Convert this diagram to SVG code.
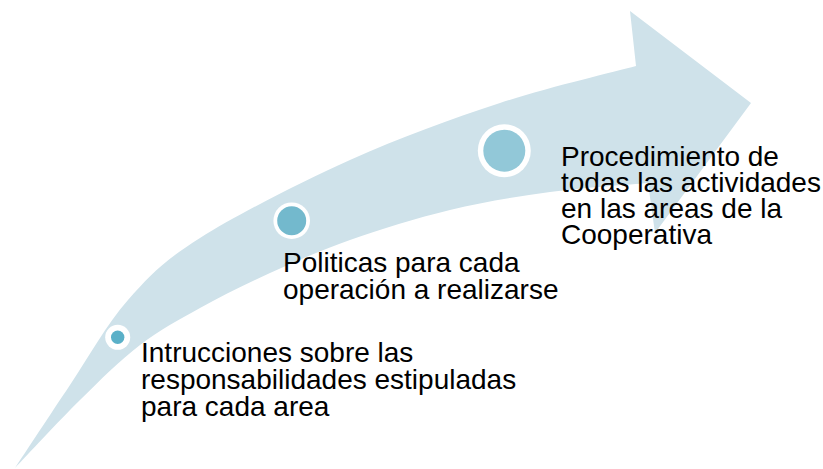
<svg xmlns="http://www.w3.org/2000/svg" width="823" height="469" viewBox="0 0 823 469">
<style>
.arrow{fill:#CFE2EA;stroke:none}
.ring{fill:#FFFFFF}
.lbl{font-family:"Liberation Sans",Arial,sans-serif;font-size:28px;fill:#000000}
</style>
<rect width="823" height="469" fill="#FFFFFF"/>
<g id="arrow">
<path class="arrow" d="M15,468 C24.2,454.2 51.2,413 70,385 C88.8,357 106.3,324.5 128,300 C149.7,275.5 163,261.3 200,238 C237,214.7 300,182.5 350,160 C400,137.5 452.3,118.7 500,103 C547.7,87.3 613.3,72.2 636,66 L630,11 L751,103 L655,233 L648,183 C631.7,184.5 583,187.5 550,192 C517,196.5 483.3,202 450,210 C416.7,218 380,229.5 350,240 C320,250.5 295,261.7 270,273 C245,284.3 221.7,296 200,308 C178.3,320 160,329.7 140,345 C120,360.3 100.8,379.5 80,400 C59.2,420.5 25.8,456.7 15,468 Z"/>
</g>
<g id="node1">
<circle class="ring" cx="117.7" cy="337.3" r="12.5"/>
<circle cx="117.7" cy="337.3" r="6.7" fill="#5AB0C8"/>
<text class="lbl" x="141" y="362">Intrucciones sobre las</text>
<text class="lbl" x="141" y="389">responsabilidades estipuladas</text>
<text class="lbl" x="141" y="416">para cada area</text>
</g>
<g id="node2">
<circle class="ring" cx="291.7" cy="220.7" r="18.3"/>
<circle cx="291.7" cy="220.7" r="14.5" fill="#73B9CD"/>
<text class="lbl" x="283" y="272">Politicas para cada</text>
<text class="lbl" x="283" y="299">operación a realizarse</text>
</g>
<g id="node3">
<circle class="ring" cx="504.3" cy="150.7" r="26.5"/>
<circle cx="504.3" cy="150.7" r="21" fill="#92C8D8"/>
<text class="lbl" x="561" y="166">Procedimiento de</text>
<text class="lbl" x="561" y="192">todas las actividades</text>
<text class="lbl" x="561" y="218">en las areas de la</text>
<text class="lbl" x="561" y="244">Cooperativa</text>
</g>
</svg>
